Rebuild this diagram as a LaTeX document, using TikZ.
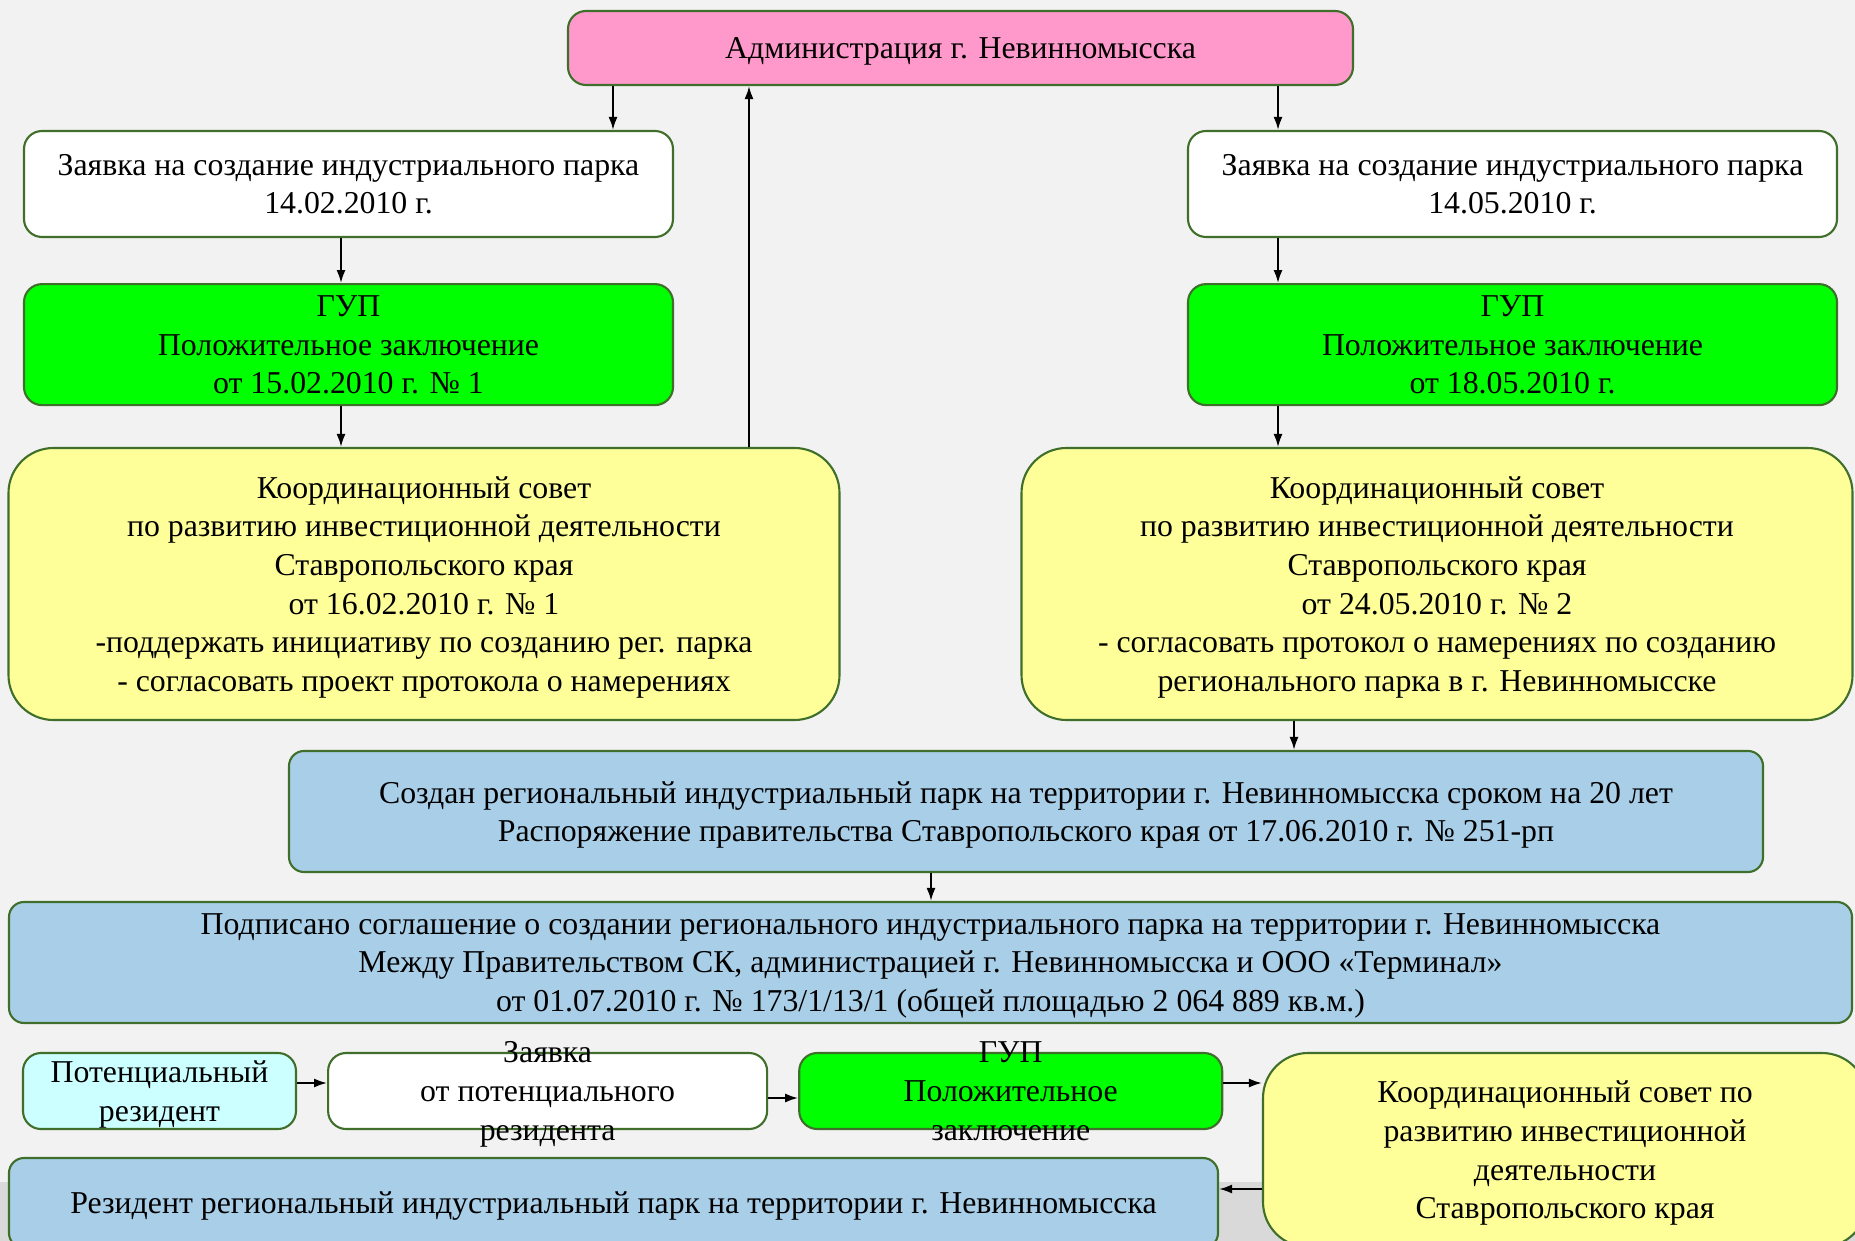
\documentclass[tikz,border=0pt]{standalone}
\usepackage{fontspec}
\setmainfont{Liberation Serif}
\usetikzlibrary{arrows.meta,positioning}
\definecolor{bgcol}{HTML}{F2F2F2}
\definecolor{stripcol}{HTML}{D9D9D9}
\definecolor{edgecol}{HTML}{3F6F2B}
\definecolor{adminfill}{HTML}{FF99CC}
\definecolor{gupfill}{HTML}{00FF00}
\definecolor{councilfill}{HTML}{FFFF99}
\definecolor{parkfill}{HTML}{A9CEE8}
\definecolor{residentfill}{HTML}{CCFFFF}
\newcommand{\boxfont}{\fontsize{9.05}{11}\selectfont}
\tikzset{
  basebox/.style={draw=edgecol, line width=0.6pt, rounded corners=1.8mm, align=center, inner sep=0pt, font=\boxfont, text depth=-1.2pt},
  adminbox/.style={basebox, fill=adminfill},
  requestbox/.style={basebox, fill=white},
  gupbox/.style={basebox, fill=gupfill},
  councilbox/.style={basebox, fill=councilfill, rounded corners=4.5mm},
  parkbox/.style={basebox, fill=parkfill, rounded corners=1.5mm},
  residentbox/.style={basebox, fill=residentfill},
  overtext/.style={align=center, inner sep=0pt, font=\boxfont, text depth=-1.2pt},
  flowarrow/.style={-{Latex[length=1.3mm,width=0.9mm]}, line width=0.55pt, draw=black}
}
\begin{document}
\begin{tikzpicture}[x=0.1mm, y=-0.1mm]
  \useasboundingbox (0,0) rectangle (1855,1241);
  \clip (0,0) rectangle (1855,1241);
  \fill[bgcol] (0,0) rectangle (1855,1241);
  \fill[stripcol] (0,1182) rectangle (1855,1241);

  % upper part
  \node[adminbox, minimum width=78.5mm, minimum height=7.4mm] (admin) at (960.5,48) {Администрация г. Невинномысска};
  \node[requestbox, minimum width=64.9mm, minimum height=10.6mm] (reqL) at (348.5,184) {Заявка на создание индустриального парка\\14.02.2010 г.};
  \node[requestbox, minimum width=64.9mm, minimum height=10.6mm] (reqR) at (1512.5,184) {Заявка на создание индустриального парка\\14.05.2010 г.};
  \node[gupbox, minimum width=64.9mm, minimum height=12.1mm, below=4.5mm of reqL] (gupL) {ГУП\\Положительное заключение\\от 15.02.2010 г. № 1};
  \node[gupbox, minimum width=64.9mm, minimum height=12.1mm, below=4.5mm of reqR] (gupR) {ГУП\\Положительное заключение\\от 18.05.2010 г.};
  \node[councilbox, minimum width=83.1mm, minimum height=27.2mm] (councilL) at (424,584) {Координационный совет\\по развитию инвестиционной деятельности\\Ставропольского края\\от 16.02.2010 г. № 1\\-поддержать инициативу по созданию рег. парка\\- согласовать проект протокола о намерениях};
  \node[councilbox, minimum width=83.1mm, minimum height=27.2mm] (councilR) at (1437,584) {Координационный совет\\по развитию инвестиционной деятельности\\Ставропольского края\\от 24.05.2010 г. № 2\\- согласовать протокол о намерениях по созданию\\регионального парка в г. Невинномысске};

  % park
  \node[parkbox, minimum width=147.4mm, minimum height=12.1mm] (park) at (1026,811.5) {Создан региональный индустриальный парк на территории г. Невинномысска сроком на 20 лет\\Распоряжение правительства Ставропольского края от 17.06.2010 г. № 251-рп};
  \node[parkbox, minimum width=184.3mm, minimum height=12.1mm] (agreement) at (930.5,962.5) {Подписано соглашение о создании регионального индустриального парка на территории г. Невинномысска\\Между Правительством СК, администрацией г. Невинномысска и ООО «Терминал»\\от 01.07.2010 г. № 173/1/13/1 (общей площадью 2 064 889 кв.м.)};

  % resident path
  \node[residentbox, minimum width=27.3mm, minimum height=7.6mm] (potential) at (159.5,1091) {Потенциальный\\резидент};
  \node[requestbox, minimum width=43.9mm, minimum height=7.6mm, right=3mm of potential, label={[overtext]center:Заявка\\от потенциального\\резидента}] (reqRes) {};
  \node[gupbox, minimum width=42.3mm, minimum height=7.6mm, right=3mm of reqRes, label={[overtext]center:ГУП\\Положительное\\заключение}] (gupRes) {};
  \node[councilbox, minimum width=60.4mm, minimum height=19.4mm] (councilRes) at (1565,1150) {Координационный совет по\\развитию инвестиционной\\деятельности\\Ставропольского края};
  \node[parkbox, minimum width=120.9mm, minimum height=9mm] (resident) at (613.5,1203) {Резидент региональный индустриальный парк на территории г. Невинномысска};

  \draw[flowarrow] (admin.south -| 613,0) -- (reqL.north -| 613,0);
  \draw[flowarrow] (councilL.north -| 749,0) -- (admin.south -| 749,0);
  \draw[flowarrow] (admin.south -| 1278,0) -- (reqR.north -| 1278,0);
  \draw[flowarrow] (reqL.south -| 341,0) -- (gupL.north -| 341,0);
  \draw[flowarrow] (gupL.south -| 341,0) -- (councilL.north -| 341,0);
  \draw[flowarrow] (reqR.south -| 1278,0) -- (gupR.north -| 1278,0);
  \draw[flowarrow] (gupR.south -| 1278,0) -- (councilR.north -| 1278,0);
  \draw[flowarrow] (councilR.south -| 1294,0) -- (park.north -| 1294,0);
  \draw[flowarrow] (park.south -| 931,0) -- (agreement.north -| 931,0);
  \draw[flowarrow] (potential.east |- 0,1083) -- (reqRes.west |- 0,1083);
  \draw[flowarrow] (reqRes.east |- 0,1098) -- (gupRes.west |- 0,1098);
  \draw[flowarrow] (gupRes.east |- 0,1083) -- (councilRes.west |- 0,1083);
  \draw[flowarrow] (councilRes.west |- 0,1189) -- (resident.east |- 0,1189);
\end{tikzpicture}
\end{document}
